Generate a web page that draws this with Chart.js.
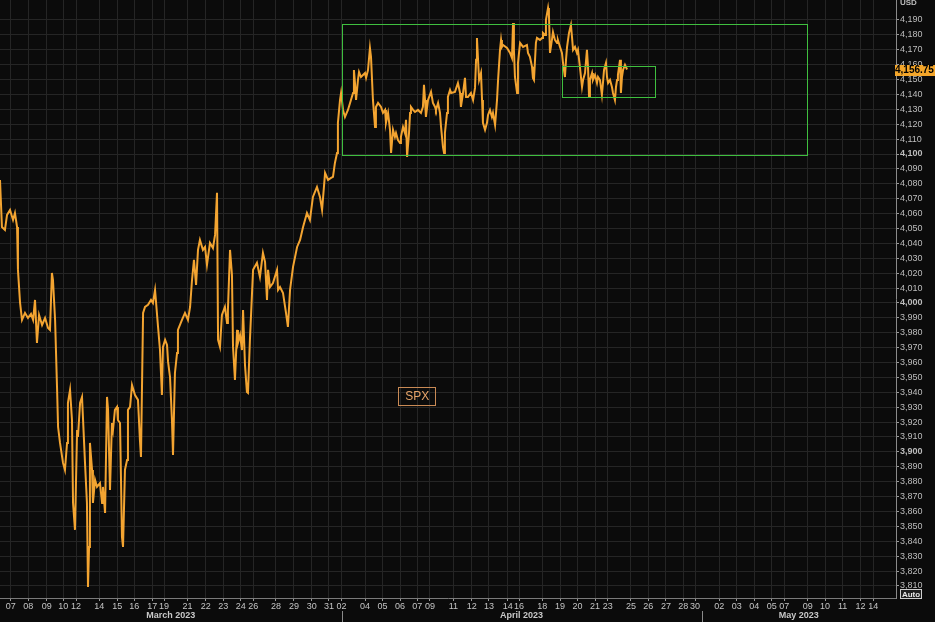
<!DOCTYPE html>
<html>
<head>
<meta charset="utf-8">
<script src="https://cdn.jsdelivr.net/npm/chart.js@4.4.1/dist/chart.umd.min.js"></script>
<style>
html,body{margin:0;padding:0;background:#0b0b0b;}
#wrap{width:935px;height:622px;}
</style>
</head>
<body>
<div id="wrap"><canvas id="c" width="935" height="622"></canvas></div>
<script>
// ---- DATA ----
// x positions in trading-session units (1 = one futures session), prices in USD
const dayPos = [0.00,0.11,0.28,0.40,0.57,0.74,0.85,0.97,1.02,1.14,1.25,1.42,1.59,1.76,1.88,1.99,2.10,2.22,2.39,2.56,2.73,2.84,2.95,3.01,3.13,3.24,3.30,3.41,3.58,3.69,3.81,3.86,3.98,4.09,4.15,4.26,4.38,4.43,4.55,4.66,4.72,4.83,4.94,5.00,5.06,5.11,5.23,5.28,5.40,5.51,5.68,5.80,5.85,5.97,6.08,6.14,6.25,6.36,6.42,6.53,6.65,6.70,6.82,6.93,6.99,7.10,7.22,7.27,7.39,7.50,7.67,7.84,7.95,8.01,8.13,8.24,8.41,8.58,8.69,8.81,8.98,9.09,9.20,9.26,9.38,9.49,9.55,9.66,9.77,9.83,9.94,10.06,10.11,10.34,10.51,10.68,10.80,10.91,11.02,11.14,11.25,11.36,11.53,11.65,11.76,11.93,12.10,12.22,12.33,12.39,12.50,12.61,12.78,12.90,12.95,13.07,13.18,13.24,13.35,13.47,13.52,13.64,13.75,13.81,13.92,14.03,14.09,14.20,14.32,14.38,14.60,14.77,14.94,15.06,15.17,15.23,15.34,15.51,15.74,15.80,15.91,16.08,16.25,16.36,16.48,16.65,16.88,17.05,17.22,17.44,17.61,17.78,18.01,18.18,18.30,18.47,18.64,18.81,18.92,19.03,19.15,19.20,19.32,19.38,19.49,19.60,19.77,19.89,20.06,20.11,20.17,20.23,20.34,20.40,20.51,20.74,20.80,20.91,21.02,21.08,21.19,21.31,21.36,21.48,21.65,21.76,21.88,21.93,22.05,22.16,22.22,22.33,22.44,22.50,22.61,22.73,22.78,22.90,23.01,23.07,23.13,23.24,23.30,23.35,23.47,23.58,23.75,23.92,24.03,24.09,24.15,24.20,24.32,24.49,24.60,24.72,24.77,24.89,25.00,25.06,25.17,25.23,25.28,25.40,25.45,25.57,25.63,25.85,26.02,26.14,26.19,26.31,26.42,26.48,26.59,26.76,26.88,26.99,27.05,27.10,27.22,27.33,27.39,27.44,27.56,27.67,27.73,27.84,27.95,28.01,28.13,28.24,28.30,28.41,28.47,28.52,28.58,28.81,28.98,29.09,29.15,29.20,29.26,29.38,29.43,29.55,29.72,29.94,30.00,30.11,30.23,30.28,30.34,30.45,30.51,30.68,30.80,30.85,30.97,31.02,31.14,31.19,31.25,31.36,31.42,31.53,31.65,31.70,31.82,31.93,31.99,32.10,32.16,32.22,32.33,32.44,32.50,32.56,32.67,32.78,32.84,32.95,33.07,33.13,33.24,33.35,33.41,33.47,33.52,33.64,33.69,33.81,33.92,33.98,34.09,34.20,34.26,34.32,34.43,34.49,34.55,34.66,34.77,34.83,34.94,35.00,35.06,35.11,35.23,35.28,35.34,35.40,35.51,35.63];
const spx = [4082.6,4051.0,4049.0,4059.1,4062.4,4055.7,4060.4,4051.0,4022.2,4000.0,3988.6,3993.3,3989.9,3992.6,3988.6,4002.0,3973.1,3991.9,3985.2,3989.9,3983.2,3981.9,4020.1,4015.4,3988.6,3943.6,3916.7,3906.0,3892.6,3887.9,3906.0,3932.9,3941.6,3921.4,3865.7,3847.6,3914.7,3910.0,3932.9,3936.9,3921.4,3892.6,3865.7,3809.3,3836.2,3906.0,3887.9,3865.7,3881.2,3876.5,3879.1,3865.7,3876.5,3859.0,3936.9,3928.2,3874.4,3919.4,3914.7,3928.2,3930.2,3921.4,3919.4,3842.9,3836.2,3887.9,3894.6,3928.2,3930.2,3944.9,3938.2,3934.9,3908.0,3896.6,3993.3,3997.3,3998.7,4002.0,4000.0,4008.7,3983.9,3968.4,3938.2,3970.5,3975.2,3971.8,3960.4,3950.3,3921.4,3898.0,3953.0,3966.4,3981.9,3988.6,3993.3,3988.6,3997.3,4015.4,4028.9,4012.1,4035.6,4042.3,4035.6,4037.6,4025.5,4040.3,4036.9,4045.7,4073.9,3975.2,3970.5,3991.9,3997.3,3986.6,3995.3,4035.6,4018.8,3970.5,3948.3,3981.9,3973.1,3978.5,3968.4,3995.3,3958.4,3940.2,3939.6,3975.2,4006.7,4022.2,4026.9,4017.5,4033.6,4027.5,4002.0,4022.2,4010.7,4013.4,4022.2,4008.7,4010.7,4006.7,3993.3,3983.9,4008.7,4024.2,4037.6,4042.3,4051.0,4060.4,4055.7,4071.2,4077.9,4071.2,4062.4,4087.3,4082.6,4083.9,4084.6,4094.0,4100.7,4120.9,4136.3,4141.0,4129.6,4124.9,4129.6,4134.3,4141.0,4156.4,4147.7,4136.3,4149.7,4155.1,4151.7,4154.4,4151.1,4156.4,4171.2,4165.2,4136.3,4118.2,4131.6,4134.3,4131.6,4127.6,4129.6,4120.9,4127.6,4116.2,4100.7,4116.2,4111.5,4114.1,4109.4,4107.4,4111.5,4118.2,4114.1,4122.9,4098.0,4114.1,4127.6,4131.6,4129.6,4128.2,4129.6,4127.6,4131.6,4146.4,4136.3,4124.9,4136.3,4141.7,4134.3,4131.6,4129.6,4134.3,4127.6,4118.2,4104.7,4100.7,4114.1,4127.6,4138.3,4143.0,4141.0,4141.7,4147.7,4141.0,4131.6,4141.0,4151.1,4138.3,4138.3,4141.0,4136.3,4144.4,4163.2,4177.9,4149.7,4154.4,4136.3,4120.9,4116.2,4120.9,4126.2,4129.6,4124.9,4127.6,4119.5,4136.3,4149.7,4169.9,4176.6,4171.9,4173.2,4171.2,4167.9,4164.5,4188.0,4169.9,4151.7,4141.0,4161.1,4174.6,4171.9,4173.2,4167.9,4165.2,4158.5,4151.1,4149.7,4174.6,4177.9,4176.6,4177.9,4181.3,4179.9,4190.0,4198.1,4193.4,4167.9,4176.6,4181.9,4176.6,4174.6,4176.6,4171.9,4167.9,4161.1,4151.7,4163.2,4171.9,4181.3,4186.6,4178.6,4169.9,4171.9,4167.9,4169.9,4158.5,4145.0,4149.7,4154.4,4169.9,4158.5,4138.3,4149.7,4154.4,4149.7,4153.1,4147.7,4151.7,4149.7,4139.7,4147.7,4156.4,4161.1,4151.7,4147.7,4149.7,4145.0,4141.0,4136.3,4145.0,4149.7,4153.1,4163.2,4141.0,4151.7,4156.4,4159.8,4156.75];
const lastPrice = 4156.75;

// day ticks (positions in session units) and their labels
const tickPos = [0.61,1.61,2.65,3.60,4.32,5.64,6.66,7.63,8.65,9.32,10.66,11.69,12.69,13.68,14.39,15.68,16.70,17.71,18.69,19.41,20.74,21.74,22.73,23.71,24.43,25.76,26.80,27.78,28.85,29.49,30.81,31.82,32.82,33.81,34.53,35.85,36.84,37.84,38.82,39.49,40.87,41.86,42.86,43.85,44.56,45.89,46.88,47.88,48.90,49.62];
const tickLabels = ['07','08','09','10','12','14','15','16','17','19','21','22','23','24','26','28','29','30','31','02','04','05','06','07','09','11','12','13','14','16','18','19','20','21','23','25','26','27','28','30','02','03','04','05','07','09','10','11','12','14'];
const monthNames = ['March 2023','April 2023','May 2023'];
const monthStart = [-5, 19.41, 39.86];
const xMin = 0, xMax = 50.91;
const yMin = 3801.9, yMax = 4203.4;
const yTickStep = 10, yTickFirst = 3810, yTickLast = 4190;

// green range boxes (session units / USD)
const boxX0 = [19.43, 31.95];
const boxX1 = [45.84, 37.23];
const boxLow = [4099.5, 4138.6];
const boxHigh = [4187.6, 4159.4];

const FONT = '"Liberation Sans", Arial, sans-serif';
const points = dayPos.map((d, i) => ({x: d, y: spx[i]}));

const overlay = {
  id: 'overlay',
  afterDatasetsDraw(chart) {
    const {ctx, chartArea: a, scales: {x, y}} = chart;
    ctx.save();
    ctx.beginPath(); ctx.rect(a.left, a.top, a.right - a.left, a.bottom - a.top); ctx.clip();
    ctx.strokeStyle = '#3fbf3f'; ctx.lineWidth = 1;
    for (let i = 0; i < boxX0.length; i++) {
      const l = Math.round(x.getPixelForValue(boxX0[i])) + 0.5;
      const r = Math.round(x.getPixelForValue(boxX1[i])) + 0.5;
      const t = Math.round(y.getPixelForValue(boxHigh[i])) + 0.5;
      const b = Math.round(y.getPixelForValue(boxLow[i])) + 0.5;
      ctx.strokeRect(l, t, r - l, b - t);
    }
    ctx.restore();
  },
  afterDraw(chart) {
    const {ctx, chartArea: a, scales: {x, y}} = chart;
    const W = chart.width, H = chart.height;
    ctx.save();
    // month row
    ctx.font = 'bold 9px ' + FONT;
    ctx.fillStyle = '#c8c8c8';
    ctx.textAlign = 'center'; ctx.textBaseline = 'middle';
    for (let i = 0; i < monthNames.length; i++) {
      const s = Math.max(a.left, x.getPixelForValue(monthStart[i]));
      const e = i + 1 < monthStart.length ? x.getPixelForValue(monthStart[i + 1]) : a.right;
      ctx.fillText(monthNames[i], (s + Math.min(e, a.right)) / 2, a.bottom + 18);
      if (i > 0) {
        ctx.strokeStyle = '#8a8a8a'; ctx.lineWidth = 1;
        ctx.beginPath(); ctx.moveTo(Math.round(s) + 0.5, a.bottom + 13); ctx.lineTo(Math.round(s) + 0.5, H); ctx.stroke();
      }
    }
    // SPX legend box
    const bx = a.left + (a.right - a.left) * 0.4445, by = a.top + (a.bottom - a.top) * 0.6465;
    ctx.strokeStyle = '#c98a55'; ctx.lineWidth = 1;
    ctx.strokeRect(Math.round(bx) + 0.5, Math.round(by) + 0.5, 37, 18);
    ctx.fillStyle = '#e8a56a';
    ctx.font = '12px ' + FONT;
    ctx.textAlign = 'center'; ctx.textBaseline = 'middle';
    ctx.fillText('SPX', bx + 19, by + 10);
    // USD
    ctx.font = 'bold 8px ' + FONT; ctx.fillStyle = '#bdbdbd'; ctx.textAlign = 'left'; ctx.textBaseline = 'top';
    ctx.fillText('USD', a.right + 4, -1);
    // last price tag
    const py = y.getPixelForValue(lastPrice);
    ctx.fillStyle = '#f4a62a';
    ctx.fillRect(a.right - 1, Math.round(py) - 4, W - a.right + 1, 11);
    ctx.fillStyle = '#000';
    ctx.font = 'bold 10px ' + FONT; ctx.textBaseline = 'middle'; ctx.textAlign = 'left';
    ctx.fillText(lastPrice.toLocaleString('en-US', {minimumFractionDigits: 2}), a.right - 1, Math.round(py) + 1.5);
    // Auto button
    ctx.fillStyle = '#1e1e1e';
    ctx.fillRect(a.right + 4, a.bottom - 9, 22, 10);
    ctx.strokeStyle = '#cfcfcf'; ctx.strokeRect(a.right + 4.5, a.bottom - 8.5, 21, 9);
    ctx.fillStyle = '#e6e6e6'; ctx.font = 'bold 8px ' + FONT; ctx.textAlign = 'center';
    ctx.fillText('Auto', a.right + 15, a.bottom - 3.5);
    ctx.restore();
  }
};

new Chart(document.getElementById('c'), {
  type: 'line',
  data: {
    datasets: [{
      label: 'SPX',
      data: points,
      borderColor: '#f3a431',
      borderWidth: 2,
      pointRadius: 0,
      tension: 0,
      fill: false
    }]
  },
  options: {
    responsive: false,
    animation: false,
    parsing: false,
    normalized: true,
    layout: {padding: 0},
    plugins: {legend: {display: false}, tooltip: {enabled: false}},
    scales: {
      x: {
        type: 'linear', min: xMin, max: xMax, position: 'bottom',
        afterBuildTicks(s) { s.ticks = tickPos.map(v => ({value: v})); },
        afterFit(s) { s.height = 24; s.paddingLeft = 0; s.paddingRight = 0; },
        grid: {color: '#252525', lineWidth: 1, tickColor: '#9a9a9a', tickLength: 3, drawTicks: true},
        border: {display: true, color: '#7a7a7a'},
        ticks: {
          autoSkip: false, maxRotation: 0, padding: 0,
          color: '#c4c4c4', font: {family: FONT, size: 9},
          callback(v) { const i = tickPos.indexOf(v); return i >= 0 ? tickLabels[i] : ''; }
        }
      },
      y: {
        type: 'linear', min: yMin, max: yMax, position: 'right',
        afterBuildTicks(s) {
          const t = [];
          for (let v = yTickFirst; v <= yTickLast; v += yTickStep) t.push({value: v});
          s.ticks = t;
        },
        afterFit(s) { s.width = 39; s.paddingTop = 0; s.paddingBottom = 0; },
        grid: {color: '#252525', lineWidth: 1, tickColor: '#9a9a9a', tickLength: 3},
        border: {display: true, color: '#8a8a8a'},
        ticks: {
          autoSkip: false, padding: 1, color: '#bdbdbd',
          font(ctx) { return {family: FONT, size: 9, weight: (ctx.tick && ctx.tick.value % 100 === 0) ? 'bold' : 'normal'}; },
          callback(v) { return v.toLocaleString('en-US'); }
        }
      }
    }
  },
  plugins: [overlay]
});
</script>
</body>
</html>
